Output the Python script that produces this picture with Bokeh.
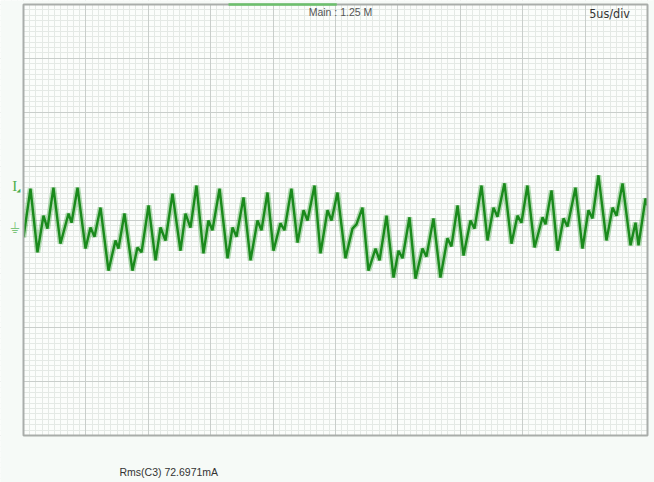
from bokeh.plotting import figure
from bokeh.models import Range1d, Grid, SingleIntervalTicker, Label
from bokeh.core.properties import value
from bokeh.embed import file_html
from bokeh.resources import INLINE

# Time axis (us), 10 divisions of 5 us
t_us = [0.00, 0.56, 1.12, 1.60, 1.92, 2.40, 2.96, 3.61, 3.85, 4.33, 4.97, 5.37, 5.69, 6.17,
        6.81, 7.37, 7.61, 8.09, 8.73, 9.13, 9.46, 10.02, 10.58, 10.98, 11.38, 11.94, 12.58,
        12.98, 13.38, 13.86, 14.42, 14.82, 15.14, 15.71, 16.35, 16.75, 17.07, 17.63, 18.19,
        18.75, 19.07, 19.55, 20.03, 20.59, 20.91, 21.47, 21.96, 22.44, 22.76, 23.32, 23.80,
        24.36, 24.68, 25.16, 25.80, 26.36, 26.68, 27.16, 27.64, 28.21, 28.53, 29.09, 29.65,
        30.05, 30.37, 30.93, 31.41, 31.97, 32.29, 32.85, 33.41, 33.97, 34.29, 34.78, 35.26,
        35.82, 36.14, 36.70, 37.18, 37.66, 37.98, 38.54, 39.10, 39.58, 39.90, 40.38, 40.95,
        41.59, 41.83, 42.31, 42.79, 43.27, 43.59, 44.23, 44.79, 45.27, 45.59, 46.07, 46.71,
        47.20, 47.52, 48.00, 48.64, 49.04, 49.28, 49.84, 50.00]
# Current trace C3, in vertical divisions from screen centre
c3_div = [-0.32, 0.58, -0.60, 0.08, -0.16, 0.60, -0.44, 0.12, -0.05, 0.60, -0.53, -0.14, -0.31, 0.23,
          -0.94, -0.38, -0.53, 0.12, -0.94, -0.51, -0.60, 0.27, -0.75, -0.14, -0.38, 0.49, -0.57,
          0.12, -0.14, 0.64, -0.62, -0.01, -0.19, 0.58, -0.71, -0.14, -0.31, 0.42, -0.75,
          -0.01, -0.19, 0.51, -0.57, -0.06, -0.19, 0.58, -0.42, 0.18, -0.01, 0.64, -0.62,
          0.18, -0.01, 0.51, -0.71, -0.16, -0.08, 0.23, -0.94, -0.53, -0.75, 0.08, -1.07,
          -0.57, -0.71, 0.05, -1.09, -0.53, -0.68, 0.03, -1.07, -0.34, -0.49, 0.27, -0.66,
          -0.01, -0.16, 0.64, -0.38, 0.23, 0.06, 0.68, -0.44, 0.08, -0.05, 0.64, -0.51,
          0.05, -0.08, 0.55, -0.57, 0.03, -0.12, 0.60, -0.53, 0.18, 0.03, 0.83, -0.38,
          0.23, 0.08, 0.68, -0.47, -0.05, -0.47, 0.40, 0.27]

screen_t = [0.0, 50.0]          # 10 div x 5 us
screen_div = [-4.0, 4.0]        # 8 vertical divisions
zoom_window_us = [16.43, 25.10]
ground_level_div = -0.14
trigger_level_div = 0.64
main_text = "Main : 1.25 M"
timebase_text = "5us/div"
measure_text = "Rms(C3)  72.6971mA"

BG = "#f6faf7"
x_lo, x_hi = -1.843, 50.561
y_lo, y_hi = -4.872, 4.074

p = figure(width=654, height=482,
           x_range=Range1d(x_lo, x_hi), y_range=Range1d(y_lo, y_hi),
           x_axis_type=None, y_axis_type=None,
           toolbar_location=None, output_backend="svg",
           min_border=0,
           background_fill_color="#fbfdfb", border_fill_color=BG,
           outline_line_color=None)

# minor grid
p.add_layout(Grid(dimension=0, ticker=SingleIntervalTicker(interval=0.5),
                  grid_line_color="#e4e9e5", grid_line_width=1))
p.add_layout(Grid(dimension=1, ticker=SingleIntervalTicker(interval=0.1),
                  grid_line_color="#e4e9e5", grid_line_width=1))
# major grid
p.add_layout(Grid(dimension=0, ticker=SingleIntervalTicker(interval=5),
                  grid_line_color="#c9cecb", grid_line_width=1))
p.add_layout(Grid(dimension=1, ticker=SingleIntervalTicker(interval=1),
                  grid_line_color="#c9cecb", grid_line_width=1))

# trace
p.line(t_us, c3_div, line_color="#2a9a2a", line_width=5.5, line_alpha=0.35)
p.line(t_us, c3_div, line_color="#1a8a1c", line_width=2.4)

# area outside the scope screen (left, right, below, above)
p.quad(left=[x_lo, screen_t[1], x_lo, x_lo],
       right=[screen_t[0], x_hi, x_hi, x_hi],
       bottom=[y_lo, y_lo, y_lo, screen_div[1]],
       top=[y_hi, y_hi, screen_div[0], y_hi],
       fill_color=BG, line_color=None)

# screen border
p.quad(left=[screen_t[0]], right=[screen_t[1]], bottom=[screen_div[0]], top=[screen_div[1]],
       fill_alpha=0.0, line_color="#a9adaa", line_width=2)

# header text, then the zoom window indicator on the top edge
p.text(x=[25.40], y=[3.86], text=[main_text], text_align="center", text_baseline="middle",
       text_font=value("Liberation Sans"), text_font_size="10.5px", text_color="#555555")
p.segment(x0=[zoom_window_us[0]], x1=[zoom_window_us[1]], y0=[screen_div[1]], y1=[screen_div[1]],
          line_color="#6cc06c", line_width=2.5, level="overlay")

p.add_layout(Label(x=46.96, y=3.83, text=timebase_text, text_align="center", text_baseline="middle",
                   text_font="DejaVu Sans Condensed", text_font_size="12.5px", text_color="#333333"))
p.add_layout(Label(x=7.69, y=-4.668, text=measure_text, text_align="left", text_baseline="middle",
                   text_font="Liberation Sans", text_font_size="10.5px", text_color="#333333"))

# channel markers at the left of the screen
p.add_layout(Label(x=-0.70, y=trigger_level_div, text="I", text_align="center", text_baseline="middle",
                   text_font="Liberation Serif", text_font_size="15px", text_color="#4cae4c"))
p.add_layout(Label(x=-0.40, y=trigger_level_div - 0.09, text="\u25e2", text_align="center",
                   text_baseline="middle", text_font="DejaVu Sans", text_font_size="5px",
                   text_color="#4cae4c"))
p.add_layout(Label(x=-0.66, y=ground_level_div, text="\u23da", text_align="center", text_baseline="middle",
                   text_font="DejaVu Sans", text_font_size="14px", text_color="#7cc47c"))

open("out.html", "w").write(file_html(p, INLINE))
